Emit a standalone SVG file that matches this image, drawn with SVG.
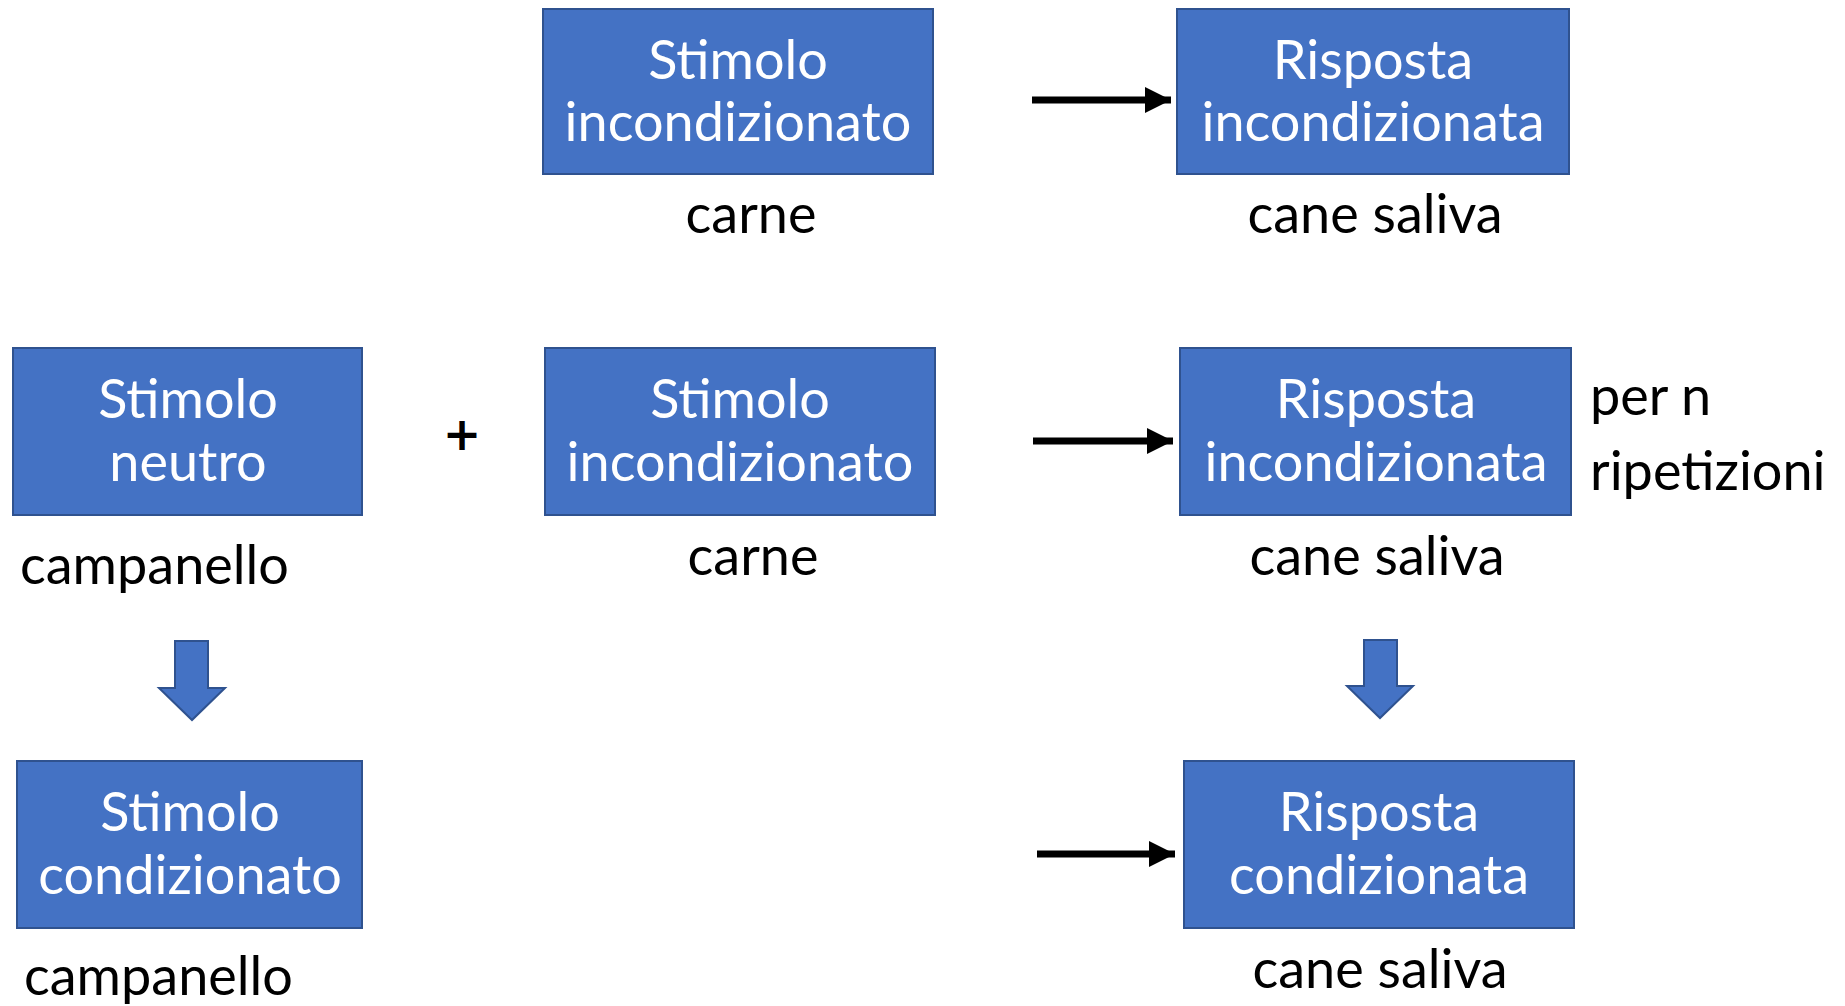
<svg xmlns="http://www.w3.org/2000/svg" width="1845" height="1006" viewBox="0 0 1845 1006">
<style>
.box{fill:#4472C4;stroke:#2F528F;stroke-width:2}
.bt{font-family:Lato,"Open Sans",sans-serif;font-size:54px;fill:#fff;text-anchor:middle}
.lb{font-family:Lato,"Open Sans",sans-serif;font-size:54px;fill:#000}
.mid{text-anchor:middle}
.conn{stroke:#000;stroke-width:7;fill:none}
.blk{fill:#4472C4;stroke:#2F528F;stroke-width:2}
</style>
<defs>
<marker id="ah" markerUnits="userSpaceOnUse" markerWidth="26" markerHeight="26" refX="26" refY="13" orient="auto">
<path d="M0,0 L26,13 L0,26 Z" fill="#000"/>
</marker>
</defs>
<g id="n-stimolo-incond-1">
<rect class="box" x="543" y="9" width="390" height="165"/>
<text class="bt" x="738" y="79">Stimolo</text>
<text class="bt" x="738" y="141">incondizionato</text>
<text class="lb mid" x="751" y="233">carne</text>
</g>
<g id="n-risposta-incond-1">
<rect class="box" x="1177" y="9" width="392" height="165"/>
<text class="bt" x="1373" y="79">Risposta</text>
<text class="bt" x="1373" y="141">incondizionata</text>
<text class="lb mid" x="1375" y="233">cane saliva</text>
</g>
<g id="n-stimolo-neutro">
<rect class="box" x="13" y="348" width="349" height="167"/>
<text class="bt" x="188" y="418">Stimolo</text>
<text class="bt" x="188" y="481">neutro</text>
<text class="lb" x="20" y="584">campanello</text>
</g>
<g id="n-plus">
<text x="462" y="450" font-family="'DejaVu Sans',sans-serif" font-size="46" font-weight="bold" text-anchor="middle">+</text>
</g>
<g id="n-stimolo-incond-2">
<rect class="box" x="545" y="348" width="390" height="167"/>
<text class="bt" x="740" y="418">Stimolo</text>
<text class="bt" x="740" y="481">incondizionato</text>
<text class="lb mid" x="753" y="575">carne</text>
</g>
<g id="n-risposta-incond-2">
<rect class="box" x="1180" y="348" width="391" height="167"/>
<text class="bt" x="1376" y="418">Risposta</text>
<text class="bt" x="1376" y="481">incondizionata</text>
<text class="lb mid" x="1377" y="575">cane saliva</text>
<text class="lb" x="1590" y="415">per n</text>
<text class="lb" x="1590" y="490">ripetizioni</text>
</g>
<g id="n-stimolo-cond">
<rect class="box" x="17" y="761" width="345" height="167"/>
<text class="bt" x="190" y="831">Stimolo</text>
<text class="bt" x="190" y="894">condizionato</text>
<text class="lb" x="24" y="995">campanello</text>
</g>
<g id="n-risposta-cond">
<rect class="box" x="1184" y="761" width="390" height="167"/>
<text class="bt" x="1379" y="831">Risposta</text>
<text class="bt" x="1379" y="894">condizionata</text>
<text class="lb mid" x="1380" y="988">cane saliva</text>
</g>
<g id="connectors">
<line class="conn" x1="1032" y1="100" x2="1171" y2="100" marker-end="url(#ah)"/>
<line class="conn" x1="1033" y1="441" x2="1173" y2="441" marker-end="url(#ah)"/>
<line class="conn" x1="1037" y1="854" x2="1175" y2="854" marker-end="url(#ah)"/>
<path class="blk" d="M175,641 H208 V688 H225 L192,720 L159,688 H175 Z"/>
<path class="blk" d="M1364,640 H1397 V686 H1413 L1380,718 L1347,686 H1364 Z"/>
</g>
</svg>
